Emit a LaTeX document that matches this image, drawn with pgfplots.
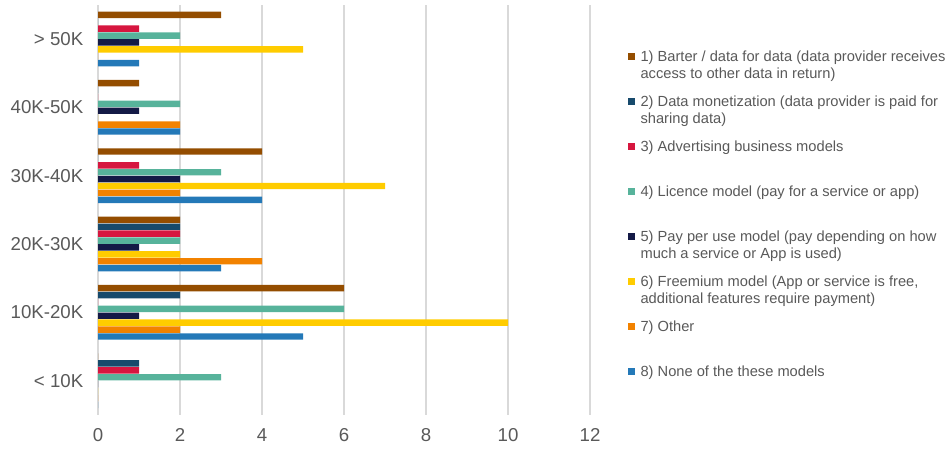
\documentclass[border=0pt]{standalone}
\usepackage{fontspec}
\setmainfont{Liberation Sans}
\usepackage{pgfplots}
\pgfplotsset{compat=1.18}

\definecolor{txt}{HTML}{595959}
\definecolor{gridc}{HTML}{D9D9D9}
\definecolor{c1}{HTML}{944D00}
\definecolor{c2}{HTML}{174A6C}
\definecolor{c3}{HTML}{D6163F}
\definecolor{c4}{HTML}{57B39B}
\definecolor{c5}{HTML}{141A46}
\definecolor{c6}{HTML}{FFCC00}
\definecolor{c7}{HTML}{F28200}
\definecolor{c8}{HTML}{2479B8}

% one entry of the legend, always two lines high
\newcommand{\lent}[2]{\parbox[t]{240pt}{\fontsize{11}{13}\selectfont\strut #1\\\strut #2}}

\pgfplotsset{
  mybar/.style={draw=none, fill=#1, bar width=0.094,
    legend image code/.code={\fill[##1] (0pt,1.1pt) rectangle (5.3pt,6.4pt);}},
}

\begin{document}
\begin{tikzpicture}
\begin{axis}[
    scale only axis,
    width=369pt, height=307.5pt,
    xbar,
    xmin=0, xmax=12,
    ymin=-0.5, ymax=5.5,
    xtick={0,2,...,12},
    ytick={0,...,5},
    yticklabels={< 10K, 10K-20K, 20K-30K, 30K-40K, 40K-50K, > 50K},
    axis line style={draw=none},
    major tick length=0pt,
    xmajorgrids,
    grid style={gridc, line width=1pt},
    tick label style={font=\fontsize{14}{16}\selectfont, text=txt},
    /pgf/number format/assume math mode=true,
    xticklabel style={yshift=-6.5pt},
    yticklabel style={xshift=-7.5pt},
    legend style={draw=none, fill=none, inner sep=0pt, anchor=north west,
      at={(axis description cs:1.077,0.893)},
      row sep=7.8pt, column sep=0pt,
      nodes={inner sep=0pt, text=txt, anchor=base west,
        text height=9.1pt, text depth=16.9pt},
      /tikz/every odd column/.style={column sep=4pt}},
    legend cell align=left,
  ]
  \addplot[mybar=c1, bar shift=0.3535] coordinates {(0,0) (6,1) (2,2) (4,3) (1,4) (3,5)};
  \addplot[mybar=c2, bar shift=0.2525] coordinates {(1,0) (2,1) (2,2) (0,3) (0,4) (0,5)};
  \addplot[mybar=c3, bar shift=0.1515] coordinates {(1,0) (0,1) (2,2) (1,3) (0,4) (1,5)};
  \addplot[mybar=c4, bar shift=0.0505] coordinates {(3,0) (6,1) (2,2) (3,3) (2,4) (2,5)};
  \addplot[mybar=c5, bar shift=-0.0505] coordinates {(0,0) (1,1) (1,2) (2,3) (1,4) (1,5)};
  \addplot[mybar=c6, bar shift=-0.1515] coordinates {(0,0) (10,1) (2,2) (7,3) (0,4) (5,5)};
  \addplot[mybar=c7, bar shift=-0.2525] coordinates {(0,0) (2,1) (4,2) (2,3) (2,4) (0,5)};
  \addplot[mybar=c8, bar shift=-0.3535] coordinates {(0,0) (5,1) (3,2) (4,3) (2,4) (1,5)};
  \addlegendentry{\lent{1) Barter / data for data (data provider receives}{access to other data in return)}}
  \addlegendentry{\lent{2) Data monetization (data provider is paid for}{sharing data)}}
  \addlegendentry{\lent{3) Advertising business models}{}}
  \addlegendentry{\lent{4) Licence model (pay for a service or app)}{}}
  \addlegendentry{\lent{5) Pay per use model (pay depending on how}{much a service or App is used)}}
  \addlegendentry{\lent{6) Freemium model (App or service is free,}{additional features require payment)}}
  \addlegendentry{\lent{7) Other}{}}
  \addlegendentry{\lent{8) None of the these models}{}}
  \coordinate (bl) at (axis description cs:-0.1992,-0.0911);
  \coordinate (tr) at (axis description cs:1.7337,1.0118);
\end{axis}
\pgfresetboundingbox
\path (bl) rectangle (tr);
\end{tikzpicture}
\end{document}
